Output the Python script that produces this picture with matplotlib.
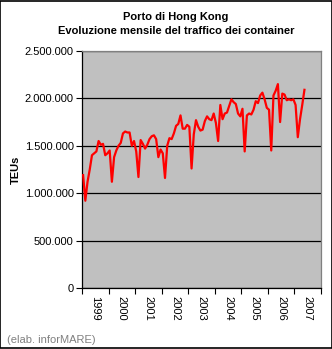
import matplotlib
matplotlib.use("Agg")
import matplotlib.pyplot as plt
from matplotlib.patches import Rectangle

# monthly container traffic, thousand TEUs, Jan 1999 - May 2007
teu_k = [
    1190, 920, 1120, 1250, 1400, 1420, 1440, 1550, 1510, 1520, 1400, 1420,   # 1999
    1450, 1120, 1380, 1450, 1500, 1530, 1630, 1650, 1640, 1640, 1500, 1550,  # 2000
    1440, 1170, 1560, 1520, 1470, 1510, 1570, 1600, 1610, 1570, 1380, 1460,  # 2001
    1420, 1160, 1500, 1580, 1570, 1630, 1710, 1730, 1820, 1680, 1680, 1720,  # 2002
    1700, 1260, 1620, 1770, 1700, 1660, 1670, 1760, 1810, 1780, 1770, 1840,  # 2003
    1740, 1550, 1930, 1780, 1840, 1850, 1920, 1990, 1960, 1940, 1840, 1810,  # 2004
    1890, 1440, 1820, 1840, 1830, 1880, 1970, 1950, 2030, 2060, 1990, 1900,  # 2005
    1880, 1450, 2030, 2080, 2150, 1750, 2050, 2040, 1980, 1990, 1980, 1990,  # 2006
    1930, 1590, 1780, 1930, 2090,                                            # 2007
]
years = ["1999", "2000", "2001", "2002", "2003", "2004", "2005", "2006", "2007"]
y_ticks = [0, 500000, 1000000, 1500000, 2000000, 2500000]

title = "Porto di Hong Kong\nEvoluzione mensile del traffico dei container"
source = "(elab. inforMARE)"

plt.rcParams['font.family'] = ['Liberation Sans', 'DejaVu Sans']

fig = plt.figure(figsize=(3.32, 3.49), dpi=100)
fig.patch.set_facecolor('white')
fig.add_artist(Rectangle((0.0015, 0.0015), 0.997, 0.997, transform=fig.transFigure,
                         fill=False, edgecolor='black', linewidth=1.2))

ax = fig.add_axes([0.247, 0.175, 0.72, 0.679])
ax.set_facecolor('#C0C0C0')

months = list(range(len(teu_k)))
values = [v * 1000 for v in teu_k]
ax.plot(months, values, color='#FF0000', linewidth=1.6, zorder=3)

ax.set_xlim(-0.5, 12 * len(years) - 0.5)
ax.set_ylim(0, 2500000)

# y axis
ax.set_yticks(y_ticks)
ax.set_yticklabels([f"{v:,.0f}".replace(',', '.') for v in y_ticks], fontsize=8)
ax.yaxis.grid(True, color='black', linewidth=0.9)
ax.set_axisbelow(True)
ax.tick_params(axis='y', direction='out', length=4, width=0.8, pad=2)
ax.set_ylabel("TEUs", fontsize=8, fontweight='bold', labelpad=2.5)

# x axis: ticks at year boundaries, labels centred in each year
boundaries = [-0.5 + 12 * k for k in range(len(years) + 1)]
centers = [5.5 + 12 * k for k in range(len(years))]
ax.set_xticks(boundaries, minor=True)
ax.set_xticks(centers)
ax.set_xticklabels(years, rotation=270, fontsize=8)
ax.tick_params(axis='x', which='major', length=0, pad=6)
ax.tick_params(axis='x', which='minor', direction='out', length=4, width=0.8)

for side in ['top', 'right']:
    ax.spines[side].set_color('#808080')
    ax.spines[side].set_linewidth(0.9)
for side in ['left', 'bottom']:
    ax.spines[side].set_color('black')
    ax.spines[side].set_linewidth(0.9)

fig.text(0.53, 0.967, title, ha='center', va='top', fontsize=8,
         fontweight='bold', linespacing=1.5)
fig.text(0.022, 0.012, source, ha='left', va='bottom', fontsize=8, color='#808080')

fig.savefig("out.png", dpi=100)
